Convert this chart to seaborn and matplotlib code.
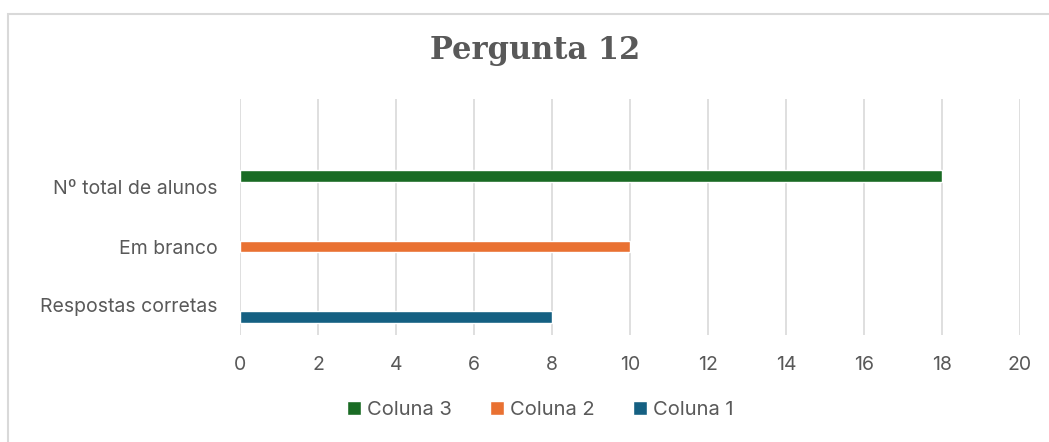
import matplotlib
matplotlib.use("Agg")
import matplotlib.pyplot as plt
import seaborn as sns
import pandas as pd
from matplotlib.patches import Rectangle

categories = ["Nº total de alunos", "Em branco", "Respostas corretas"]
series = ["Coluna 3", "Coluna 2", "Coluna 1"]
values = [18, 10, 8]
colors = ["#196B24", "#E97132", "#156082"]
xticks = [0, 2, 4, 6, 8, 10, 12, 14, 16, 18, 20]

df = pd.DataFrame({"categoria": categories, "serie": series, "valor": values})

sns.set_theme(style="white")
plt.rcParams["font.family"] = ["Inter", "DejaVu Sans"]

fig = plt.figure(figsize=(10.49, 4.42), dpi=100)
ax = fig.add_axes([240 / 1049, 1 - 335 / 442, 780 / 1049, 236 / 442])

sns.barplot(data=df, y="categoria", x="valor", hue="serie", order=categories,
            hue_order=series, palette=colors, orient="h", width=0.6, dodge=True,
            saturation=1, ax=ax, legend=True)

ax.set_xlim(0, 20)
ax.set_ylim(2.5, -1.5)
ax.set_xticks(xticks)
ax.set_xticklabels([str(t) for t in xticks])
ax.set_xlabel("")
ax.set_ylabel("")
for s in ax.spines.values():
    s.set_visible(False)
ax.grid(axis="x", color="#D9D9D9", linewidth=1.2)
ax.grid(axis="y", visible=False)
ax.set_axisbelow(True)
ax.tick_params(axis="both", length=0, colors="#595959", labelsize=14)
ax.tick_params(axis="x", pad=15)
ax.tick_params(axis="y", pad=16)
for lbl in ax.get_yticklabels() + ax.get_xticklabels():
    lbl.set_color("#595959")

handles, labels = ax.get_legend_handles_labels()
ax.legend_.remove()
fig.legend(handles, labels, loc="center", bbox_to_anchor=(0.515, 1 - 410 / 442),
           ncol=3, frameon=False, fontsize=14.5, handlelength=0.7, handleheight=0.7,
           handletextpad=0.3, columnspacing=1.9, labelcolor="#595959")

fig.text(0.51, 1 - 50 / 442, "Pergunta 12", ha="center", va="center",
         fontsize=22, fontweight="bold", color="#595959", family="DejaVu Serif")

fig.patches.append(Rectangle((8 / 1049, -0.05), 1.1, 1 - 14 / 442 + 0.05,
                             transform=fig.transFigure, fill=False,
                             edgecolor="#D9D9D9", linewidth=1.5))

fig.savefig("out.png", dpi=100, facecolor="white")
